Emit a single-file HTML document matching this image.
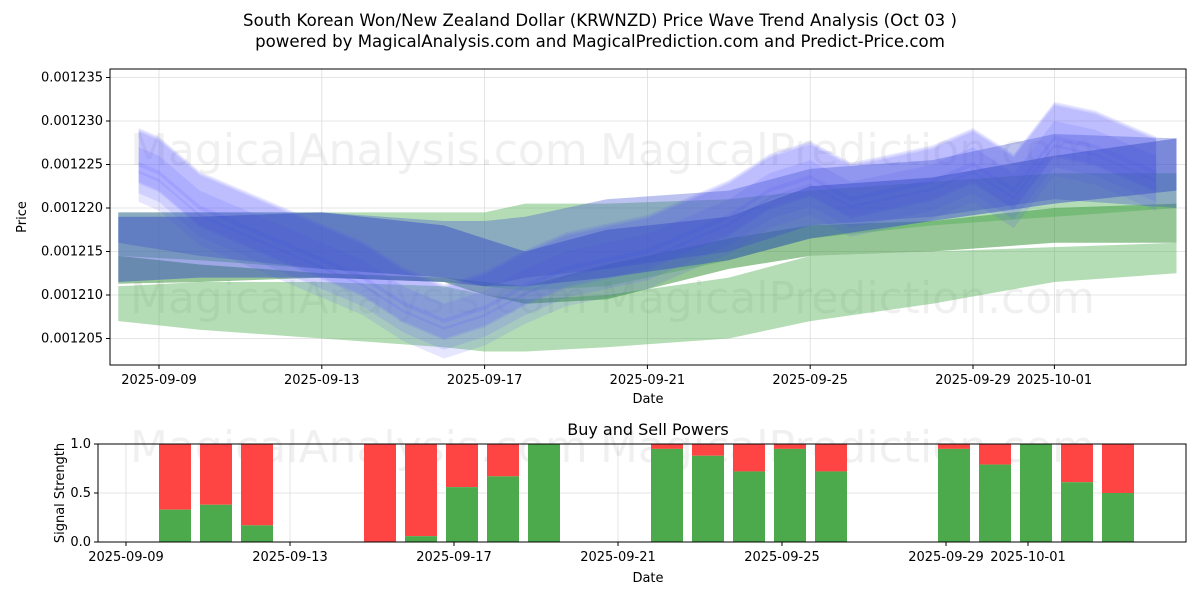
<!DOCTYPE html>
<html><head><meta charset="utf-8"><style>
body{margin:0;background:#fff;font-family:"Liberation Sans","DejaVu Sans",sans-serif}
svg text{font-family:"DejaVu Sans","Liberation Sans",sans-serif}
</style></head><body>
<svg id="c" width="1200" height="600" xmlns="http://www.w3.org/2000/svg">
<text x="600" y="26" text-anchor="middle" font-size="16.6">South Korean Won/New Zealand Dollar (KRWNZD) Price Wave Trend Analysis (Oct 03 )</text>
<text x="600" y="47" text-anchor="middle" font-size="16.6">powered by MagicalAnalysis.com and MagicalPrediction.com and Predict-Price.com</text>
<g id="topg"></g><g id="botg"></g>
</svg>
<script>
// ---- data ----
const bandDays=[0,2,5,8,9,10,12,15,17,20,23,26];
const g1Lower=[1207,1206,1205,1204,1203.5,1203.5,1204,1205,1207,1209,1211.5,1212.5];
const g1Upper=[1211,1211.5,1211.5,1211,1210,1209.5,1210,1212,1214.5,1215,1215.5,1216];
const g2Lower=[1211.3,1211.5,1212,1211.5,1210,1209,1209.5,1213,1214.5,1215,1216,1216];
const g2Upper=[1214.5,1213.5,1212.5,1212,1211.5,1211,1213.5,1216.5,1218,1218.5,1220,1220.5];
const g3Lower=[1214.5,1214,1213,1212,1211,1210.5,1211,1214,1216.5,1218,1219,1220];
const g3Upper=[1219.5,1219.5,1219.5,1219.5,1219.5,1220.5,1220.5,1221,1222,1223,1224,1224];
const b1Lower=[1211.5,1212,1212,1211.5,1211,1211,1212,1214,1216.5,1218.5,1220.5,1222];
const b1Upper=[1219,1219,1219.5,1218,1216.5,1215,1217.5,1219,1222.5,1223.5,1226,1228];
const b2Lower=[1216,1214.5,1213,1212,1211,1212,1213,1215,1218,1219,1221,1220];
const b2Upper=[1219.5,1219.5,1219.5,1218.5,1218.5,1219,1221,1222,1224.5,1225.5,1228.5,1228];
const waveDays=[0.5,1,2,4,6,7,8,9,10,11,12,13,14,15,16,17,18,19,20,21,22,23,24,25,25.5];
const waveCenter=[1225,1224,1220,1216,1212,1209,1207,1208.5,1211,1213,1214,1215,1217,1219,1222,1223.5,1221,1222,1223,1225,1222,1228,1227,1225,1224];
const waveOffsets=[1.5,0,-1.5,0.8,-2.5,2];
const waveHalf=[2.5,2,1.8,3,1.8,2.2];
const yTicks=[1205,1210,1215,1220,1225,1230,1235];
const yTickLabels=["0.001205","0.001210","0.001215","0.001220","0.001225","0.001230","0.001235"];
const xTickDays=[1,5,9,13,17,21,23];
const xTickLabels=["2025-09-09","2025-09-13","2025-09-17","2025-09-21","2025-09-25","2025-09-29","2025-10-01"];
const barDays=[2,3,4,7,8,9,10,11,14,15,16,17,18,21,22,23,24,25];
const buyPower=[0.33,0.38,0.17,0,0.06,0.56,0.67,1.0,0.95,0.88,0.72,0.95,0.72,0.95,0.79,1.0,0.61,0.5];
const sigTicks=[0,0.5,1];
const sigTickLabels=["0.0","0.5","1.0"];
// ---- axes ----
const NS="http://www.w3.org/2000/svg";
const T={l:110,r:1186,t:69,b:365};
const xT=d=>159+(d-1)*40.7;
const yT=v=>208-(v-1220)*8.7;
const B={l:98,r:1186,t:444,b:542};
const xB=d=>126+(d-1)*41;
const yB=v=>542-v*98;
function mk(p,tag,a){const e=document.createElementNS(NS,tag);for(const k in a)e.setAttribute(k,a[k]);p.appendChild(e);return e;}
const topG=document.getElementById('topg'),botG=document.getElementById('botg');
mk(topG,'rect',{x:T.l,y:T.t,width:T.r-T.l,height:T.b-T.t,fill:'#fff'});
xTickDays.forEach(d=>{const g=mk(topG,'line',{x1:xT(d),x2:xT(d),y1:T.t,y2:T.b,stroke:'#ddd','stroke-width':0.8});});
yTicks.forEach(v=>{const g=mk(topG,'line',{x1:T.l,x2:T.r,y1:yT(v),y2:yT(v),stroke:'#ddd','stroke-width':0.8});});
[[130,165,'MagicalAnalysis.com'],[600,165,'MagicalPrediction.com'],[130,313,'MagicalAnalysis.com'],[600,313,'MagicalPrediction.com']].forEach(w=>{const t=mk(topG,'text',{x:w[0],y:w[1],'font-size':44,fill:'#000','fill-opacity':0.06});t.textContent=w[2];});
function band(days,lo,hi,col,op,name){
  let pts=days.map((d,i)=>xT(d)+','+yT(hi[i]));
  pts=pts.concat(days.map((d,i)=>xT(d)+','+yT(lo[i])).reverse());
  const p=mk(topG,'polygon',{points:pts.join(' '),fill:col,'fill-opacity':op});
  
  
}
band(bandDays,g1Lower,g1Upper,'#4caf50',0.42,'green-band-lower');
band(bandDays,g2Lower,g2Upper,'#2e8b2e',0.5,'green-band-middle');
band(bandDays,g3Lower,g3Upper,'#4caf50',0.42,'green-band-upper');
waveOffsets.forEach((o,k)=>{
  const lo=waveCenter.map(v=>v+o-waveHalf[k]);
  const hi=waveCenter.map(v=>v+o+waveHalf[k]);
  band(waveDays,lo,hi,'#5555ff',0.15,'blue-wave-band');
});
band(bandDays,b2Lower,b2Upper,'#4050d0',0.35,'blue-band-wide');
band(bandDays,b1Lower,b1Upper,'#3a50c8',0.5,'blue-band-main');
mk(topG,'rect',{x:T.l,y:T.t,width:T.r-T.l,height:T.b-T.t,fill:'none',stroke:'#000','stroke-width':1});
yTicks.forEach((v,i)=>{mk(topG,'line',{x1:T.l-4,x2:T.l,y1:yT(v),y2:yT(v),stroke:'#000'});const t=mk(topG,'text',{x:T.l-7,y:yT(v)+4,'text-anchor':'end','font-size':13});t.textContent=yTickLabels[i];});
xTickDays.forEach((d,i)=>{mk(topG,'line',{x1:xT(d),x2:xT(d),y1:T.b,y2:T.b+4,stroke:'#000'});const t=mk(topG,'text',{x:xT(d),y:T.b+19,'text-anchor':'middle','font-size':13});t.textContent=xTickLabels[i];});
let t=mk(topG,'text',{x:648,y:403,'text-anchor':'middle','font-size':13});t.textContent='Date';
t=mk(topG,'text',{x:26,y:217,'text-anchor':'middle','font-size':13,transform:'rotate(-90 26 217)'});t.textContent='Price';
// ---- bottom ----
t=mk(botG,'text',{x:648,y:435,'text-anchor':'middle','font-size':16});t.textContent='Buy and Sell Powers';
sigTicks.forEach(v=>{const g=mk(botG,'line',{x1:B.l,x2:B.r,y1:yB(v),y2:yB(v),stroke:'#ddd','stroke-width':0.8});});
xTickDays.forEach(d=>{mk(botG,'line',{x1:xB(d),x2:xB(d),y1:B.t,y2:B.b,stroke:'#ddd','stroke-width':0.8});});
[[130,462,'MagicalAnalysis.com'],[600,462,'MagicalPrediction.com']].forEach(w=>{const t=mk(botG,'text',{x:w[0],y:w[1],'font-size':44,fill:'#000','fill-opacity':0.06});t.textContent=w[2];});
barDays.forEach((d,i)=>{
  const x=xB(d)-8,w=32,b=buyPower[i];
  const s=mk(botG,'rect',{x:x,y:yB(1),width:w,height:yB(b)-yB(1),fill:'#ff4444'});
  
  
  const g=mk(botG,'rect',{x:x,y:yB(b),width:w,height:yB(0)-yB(b),fill:'#4caa4c'});
  
  
});
mk(botG,'rect',{x:B.l,y:B.t,width:B.r-B.l,height:B.b-B.t,fill:'none',stroke:'#000'});
sigTicks.forEach((v,i)=>{mk(botG,'line',{x1:B.l-4,x2:B.l,y1:yB(v),y2:yB(v),stroke:'#000'});const t=mk(botG,'text',{x:B.l-7,y:yB(v)+4,'text-anchor':'end','font-size':13});t.textContent=sigTickLabels[i];});
xTickDays.forEach((d,i)=>{mk(botG,'line',{x1:xB(d),x2:xB(d),y1:B.b,y2:B.b+4,stroke:'#000'});const t=mk(botG,'text',{x:xB(d),y:B.b+19,'text-anchor':'middle','font-size':13});t.textContent=xTickLabels[i];});
t=mk(botG,'text',{x:648,y:582,'text-anchor':'middle','font-size':13});t.textContent='Date';
t=mk(botG,'text',{x:64,y:493,'text-anchor':'middle','font-size':13,transform:'rotate(-90 64 493)'});t.textContent='Signal Strength';
</script>
</body></html>
